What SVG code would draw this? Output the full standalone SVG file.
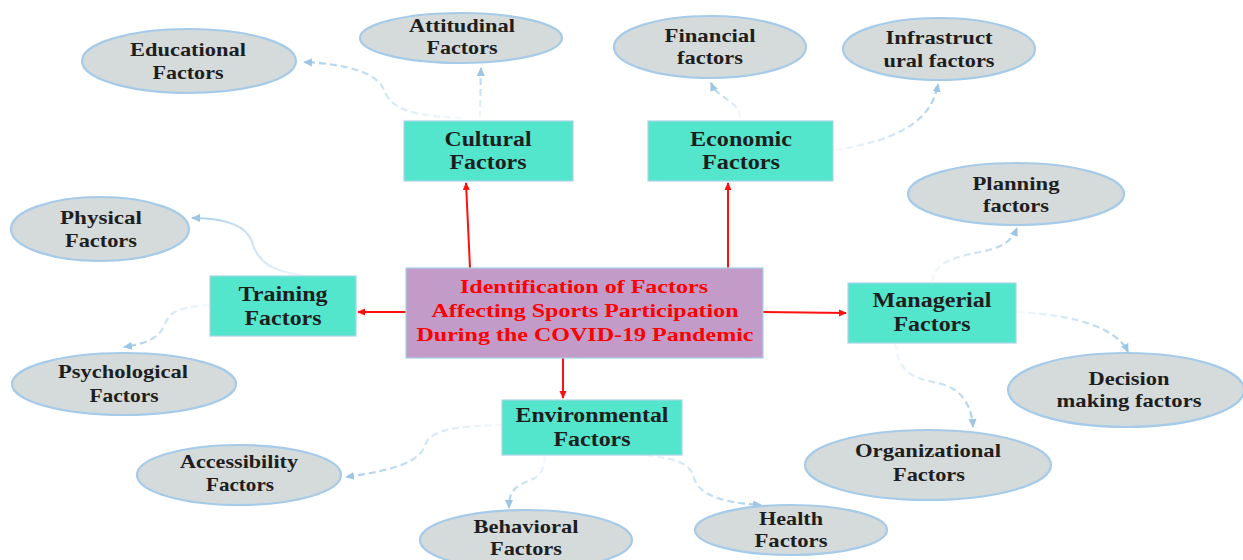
<svg xmlns="http://www.w3.org/2000/svg" width="1243" height="560" viewBox="0 0 1243 560">
  <style>
    .box { fill: #53e6cc; stroke: #a9d6e6; stroke-width: 1.2; }
    .core { fill: #c29bc8; stroke: #a9cfe6; stroke-width: 1.2; }
    .oval { fill: #d5dbdb; stroke: #a6cbe8; stroke-width: 2.2; }
    text { font-family: "Liberation Serif", "Times New Roman", serif; font-weight: bold; text-anchor: middle; }
    .lbl { fill: #1e1e1e; }
    .bl { font-size: 20px; }
    .ol { font-size: 19px; }
    .cl { font-size: 19px; fill: #ff0000; }
    .main { fill: none; stroke: #ff1010; stroke-width: 2; }
    .sub { fill: none; stroke-width: 2.2; stroke-dasharray: 7 4; }
    .solid { fill: none; stroke-width: 2.2; }
    .s0 { stop-color: #a9cfea; stop-opacity: 0.12; }
    .s1 { stop-color: #a9cfea; stop-opacity: 1; }
  </style>
  <defs>
    <marker id="red" markerWidth="8" markerHeight="8" refX="7" refY="4" orient="auto" markerUnits="userSpaceOnUse">
      <path d="M0,0.5 L8,4 L0,7.5 Z" fill="#ff1010"/>
    </marker>
    <marker id="blue" markerWidth="10" markerHeight="10" refX="8" refY="5" orient="auto" markerUnits="userSpaceOnUse">
      <path d="M0,1 L9,5 L0,9 Z" fill="#9dc6e6"/>
    </marker>
    <!-- fading strokes, light at the source end -->
    <linearGradient id="gEdu" gradientUnits="userSpaceOnUse" x1="462" y1="118" x2="304" y2="62"><stop offset="0" class="s0"/><stop offset="1" class="s1"/></linearGradient>
    <linearGradient id="gAtt" gradientUnits="userSpaceOnUse" x1="480" y1="118" x2="481" y2="68"><stop offset="0" class="s0"/><stop offset="1" class="s1"/></linearGradient>
    <linearGradient id="gFin" gradientUnits="userSpaceOnUse" x1="740" y1="118" x2="711" y2="83"><stop offset="0" class="s0"/><stop offset="1" class="s1"/></linearGradient>
    <linearGradient id="gInf" gradientUnits="userSpaceOnUse" x1="835" y1="150" x2="938" y2="84"><stop offset="0" class="s0"/><stop offset="1" class="s1"/></linearGradient>
    <linearGradient id="gPhy" gradientUnits="userSpaceOnUse" x1="313" y1="277" x2="192" y2="218"><stop offset="0" class="s0"/><stop offset="1" class="s1"/></linearGradient>
    <linearGradient id="gPsy" gradientUnits="userSpaceOnUse" x1="209" y1="305" x2="124" y2="347"><stop offset="0" class="s0"/><stop offset="1" class="s1"/></linearGradient>
    <linearGradient id="gPla" gradientUnits="userSpaceOnUse" x1="932" y1="282" x2="1017" y2="228"><stop offset="0" class="s0"/><stop offset="1" class="s1"/></linearGradient>
    <linearGradient id="gDec" gradientUnits="userSpaceOnUse" x1="1017" y1="312" x2="1128" y2="352"><stop offset="0" class="s0"/><stop offset="1" class="s1"/></linearGradient>
    <linearGradient id="gOrg" gradientUnits="userSpaceOnUse" x1="895" y1="343" x2="973" y2="427"><stop offset="0" class="s0"/><stop offset="1" class="s1"/></linearGradient>
    <linearGradient id="gAcc" gradientUnits="userSpaceOnUse" x1="503" y1="425" x2="346" y2="477"><stop offset="0" class="s0"/><stop offset="1" class="s1"/></linearGradient>
    <linearGradient id="gBeh" gradientUnits="userSpaceOnUse" x1="545" y1="456" x2="509" y2="508"><stop offset="0" class="s0"/><stop offset="1" class="s1"/></linearGradient>
    <linearGradient id="gHea" gradientUnits="userSpaceOnUse" x1="635" y1="454" x2="761" y2="505"><stop offset="0" class="s0"/><stop offset="1" class="s1"/></linearGradient>
  </defs>

  <!-- connectors -->
  <g id="connectors">
    <line class="main" x1="470" y1="268" x2="466" y2="183" marker-end="url(#red)"/>
    <line class="main" x1="728" y1="268" x2="728" y2="183" marker-end="url(#red)"/>
    <line class="main" x1="406" y1="312" x2="358" y2="312" marker-end="url(#red)"/>
    <line class="main" x1="763" y1="312" x2="846" y2="313" marker-end="url(#red)"/>
    <line class="main" x1="563" y1="358" x2="563" y2="398" marker-end="url(#red)"/>

    <path class="sub" stroke="url(#gEdu)" d="M 462 118 C 405 116 390 106 384 90 C 377 72 345 64 304 62" marker-end="url(#blue)"/>
    <path class="sub" stroke="url(#gAtt)" d="M 480 118 C 480.5 100 480.5 85 481 68" marker-end="url(#blue)"/>
    <path class="sub" stroke="url(#gFin)" d="M 740 118 C 740 100 718 100 711 83" marker-end="url(#blue)"/>
    <path class="sub" stroke="url(#gInf)" d="M 835 150 C 900 140 932 120 938 84" marker-end="url(#blue)"/>
    <path class="solid" stroke="url(#gPhy)" d="M 313 277 C 270 272 258 262 252 242 C 246 224 222 218 192 218" marker-end="url(#blue)"/>
    <path class="sub" stroke="url(#gPsy)" d="M 209 305 C 175 308 170 312 164 326 C 158 340 142 344 124 347" marker-end="url(#blue)"/>
    <path class="sub" stroke="url(#gPla)" d="M 932 282 C 935 260 960 256 985 251 C 1005 246 1012 240 1017 228" marker-end="url(#blue)"/>
    <path class="sub" stroke="url(#gDec)" d="M 1017 312 C 1080 315 1118 330 1128 352" marker-end="url(#blue)"/>
    <path class="sub" stroke="url(#gOrg)" d="M 895 343 C 900 380 920 378 945 385 C 965 392 972 410 973 427" marker-end="url(#blue)"/>
    <path class="sub" stroke="url(#gAcc)" d="M 503 425 C 455 426 430 430 425 445 C 420 462 395 470 346 477" marker-end="url(#blue)"/>
    <path class="sub" stroke="url(#gBeh)" d="M 545 456 C 544 470 540 477 528 481 C 512 487 509 495 509 508" marker-end="url(#blue)"/>
    <path class="sub" stroke="url(#gHea)" d="M 635 454 C 675 458 690 462 694 478 C 700 498 730 503 761 505" marker-end="url(#blue)"/>
  </g>

  <!-- central node -->
  <g id="center">
    <rect class="core" x="406" y="268" width="357" height="90"/>
    <text class="cl" x="584" y="293" textLength="248" lengthAdjust="spacingAndGlyphs">Identification of Factors</text>
    <text class="cl" x="585" y="317" textLength="307" lengthAdjust="spacingAndGlyphs">Affecting Sports Participation</text>
    <text class="cl" x="585" y="341" textLength="337" lengthAdjust="spacingAndGlyphs">During the COVID-19 Pandemic</text>
  </g>

  <!-- category nodes -->
  <g id="cultural">
    <rect class="box" x="404" y="121" width="169" height="60"/>
    <text class="lbl bl" x="488" y="146" textLength="87" lengthAdjust="spacingAndGlyphs">Cultural</text>
    <text class="lbl bl" x="488" y="169" textLength="77" lengthAdjust="spacingAndGlyphs">Factors</text>
  </g>
  <g id="economic">
    <rect class="box" x="648" y="121" width="185" height="60"/>
    <text class="lbl bl" x="741" y="146" textLength="102" lengthAdjust="spacingAndGlyphs">Economic</text>
    <text class="lbl bl" x="741" y="169" textLength="78" lengthAdjust="spacingAndGlyphs">Factors</text>
  </g>
  <g id="training">
    <rect class="box" x="210" y="276" width="146" height="60"/>
    <text class="lbl bl" x="283" y="301" textLength="89" lengthAdjust="spacingAndGlyphs">Training</text>
    <text class="lbl bl" x="283" y="325" textLength="77" lengthAdjust="spacingAndGlyphs">Factors</text>
  </g>
  <g id="managerial">
    <rect class="box" x="848" y="283" width="168" height="60"/>
    <text class="lbl bl" x="932" y="307" textLength="119" lengthAdjust="spacingAndGlyphs">Managerial</text>
    <text class="lbl bl" x="932" y="331" textLength="77" lengthAdjust="spacingAndGlyphs">Factors</text>
  </g>
  <g id="environmental">
    <rect class="box" x="502" y="400" width="180" height="55"/>
    <text class="lbl bl" x="592" y="422" textLength="153" lengthAdjust="spacingAndGlyphs">Environmental</text>
    <text class="lbl bl" x="592" y="446" textLength="77" lengthAdjust="spacingAndGlyphs">Factors</text>
  </g>

  <!-- factor ellipses -->
  <g id="educational">
    <ellipse class="oval" cx="189" cy="61" rx="107" ry="32"/>
    <text class="lbl ol" x="188" y="56" textLength="116" lengthAdjust="spacingAndGlyphs">Educational</text>
    <text class="lbl ol" x="188" y="79" textLength="71" lengthAdjust="spacingAndGlyphs">Factors</text>
  </g>
  <g id="attitudinal">
    <ellipse class="oval" cx="461" cy="38" rx="101" ry="25"/>
    <text class="lbl ol" x="462" y="32" textLength="106" lengthAdjust="spacingAndGlyphs">Attitudinal</text>
    <text class="lbl ol" x="462" y="54" textLength="71" lengthAdjust="spacingAndGlyphs">Factors</text>
  </g>
  <g id="financial">
    <ellipse class="oval" cx="710" cy="47" rx="96" ry="31"/>
    <text class="lbl ol" x="710" y="42" textLength="91" lengthAdjust="spacingAndGlyphs">Financial</text>
    <text class="lbl ol" x="710" y="64" textLength="66" lengthAdjust="spacingAndGlyphs">factors</text>
  </g>
  <g id="infrastructural">
    <ellipse class="oval" cx="939" cy="49" rx="96" ry="31"/>
    <text class="lbl ol" x="939" y="44" textLength="107" lengthAdjust="spacingAndGlyphs">Infrastruct</text>
    <text class="lbl ol" x="939" y="67" textLength="111" lengthAdjust="spacingAndGlyphs">ural factors</text>
  </g>
  <g id="physical">
    <ellipse class="oval" cx="100" cy="229" rx="89" ry="32"/>
    <text class="lbl ol" x="101" y="224" textLength="82" lengthAdjust="spacingAndGlyphs">Physical</text>
    <text class="lbl ol" x="101" y="247" textLength="72" lengthAdjust="spacingAndGlyphs">Factors</text>
  </g>
  <g id="psychological">
    <ellipse class="oval" cx="124" cy="384" rx="112" ry="31"/>
    <text class="lbl ol" x="123" y="378" textLength="130" lengthAdjust="spacingAndGlyphs">Psychological</text>
    <text class="lbl ol" x="124" y="402" textLength="69" lengthAdjust="spacingAndGlyphs">Factors</text>
  </g>
  <g id="planning">
    <ellipse class="oval" cx="1016" cy="194" rx="108" ry="31"/>
    <text class="lbl ol" x="1016" y="190" textLength="87" lengthAdjust="spacingAndGlyphs">Planning</text>
    <text class="lbl ol" x="1016" y="212" textLength="66" lengthAdjust="spacingAndGlyphs">factors</text>
  </g>
  <g id="decision">
    <ellipse class="oval" cx="1126" cy="390" rx="118" ry="37"/>
    <text class="lbl ol" x="1129" y="385" textLength="81" lengthAdjust="spacingAndGlyphs">Decision</text>
    <text class="lbl ol" x="1129" y="407" textLength="145" lengthAdjust="spacingAndGlyphs">making factors</text>
  </g>
  <g id="organizational">
    <ellipse class="oval" cx="928" cy="465" rx="123" ry="35"/>
    <text class="lbl ol" x="928" y="457" textLength="146" lengthAdjust="spacingAndGlyphs">Organizational</text>
    <text class="lbl ol" x="929" y="481" textLength="72" lengthAdjust="spacingAndGlyphs">Factors</text>
  </g>
  <g id="accessibility">
    <ellipse class="oval" cx="239" cy="475" rx="102" ry="30"/>
    <text class="lbl ol" x="239" y="468" textLength="118" lengthAdjust="spacingAndGlyphs">Accessibility</text>
    <text class="lbl ol" x="240" y="491" textLength="68" lengthAdjust="spacingAndGlyphs">Factors</text>
  </g>
  <g id="behavioral">
    <ellipse class="oval" cx="526" cy="540" rx="106" ry="30"/>
    <text class="lbl ol" x="526" y="533" textLength="105" lengthAdjust="spacingAndGlyphs">Behavioral</text>
    <text class="lbl ol" x="526" y="555" textLength="72" lengthAdjust="spacingAndGlyphs">Factors</text>
  </g>
  <g id="health">
    <ellipse class="oval" cx="791" cy="530" rx="96" ry="25"/>
    <text class="lbl ol" x="791" y="525" textLength="64" lengthAdjust="spacingAndGlyphs">Health</text>
    <text class="lbl ol" x="791" y="547" textLength="73" lengthAdjust="spacingAndGlyphs">Factors</text>
  </g>
</svg>
